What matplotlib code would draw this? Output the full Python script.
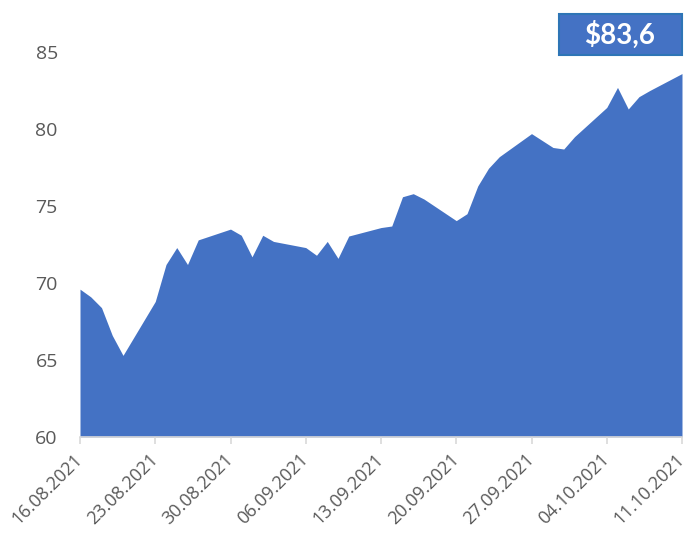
import matplotlib
matplotlib.use("Agg")
import matplotlib.pyplot as plt
import matplotlib.dates as mdates
from matplotlib.patches import Rectangle
import pandas as pd

# trading days only (weekends are bridged by a straight line, as on the date axis)
start_date = "2021-08-16"
end_date = "2021-10-11"
prices = [
    69.6, 69.1, 68.4, 66.6, 65.3,
    68.8, 71.2, 72.3, 71.2, 72.8,
    73.5, 73.1, 71.7, 73.1, 72.7,
    72.3, 71.8, 72.7, 71.6, 73.05,
    73.6, 73.7, 75.6, 75.8, 75.45,
    74.05, 74.5, 76.3, 77.45, 78.2,
    79.7, 79.25, 78.8, 78.7, 79.5,
    81.4, 82.7, 81.3, 82.1, 82.5,
    83.6,
]
last_label = "$83,6"
y_ticks = [60, 65, 70, 75, 80, 85]

BLUE = "#4472C4"
GREY_TEXT = "#595959"
AXIS_GREY = "#D9D9D9"
FONT = ["Open Sans", "DejaVu Sans"]

dates = pd.bdate_range(start_date, end_date)
x = mdates.date2num(dates.to_pydatetime())

W, H = 687, 533
fig = plt.figure(figsize=(W / 100, H / 100), dpi=100)
ax = fig.add_axes([80 / W, 96 / H, 602 / W, 385 / H])

ax.fill_between(x, 60, prices, color=BLUE, linewidth=0)

ax.set_xlim(x[0], x[-1])
ax.set_ylim(60, 85)

ax.set_yticks(y_ticks)
ax.set_yticklabels([str(v) for v in y_ticks], fontsize=14, color=GREY_TEXT, family=FONT)
ax.tick_params(axis="y", length=0, pad=16)

week_ticks = pd.date_range(start_date, end_date, freq="7D")
ax.set_xticks(mdates.date2num(week_ticks.to_pydatetime()))
ax.set_xticklabels([d.strftime("%d.%m.%Y") for d in week_ticks], rotation=45,
                   ha="right", va="center", rotation_mode="anchor",
                   fontsize=13, color=GREY_TEXT, family=FONT)
ax.tick_params(axis="x", length=5, width=1.2, color=AXIS_GREY, pad=9)

for side in ["top", "right", "left"]:
    ax.spines[side].set_visible(False)
ax.spines["bottom"].set_color(AXIS_GREY)
ax.spines["bottom"].set_linewidth(1.2)

# value badge in the top right corner
fig.add_artist(Rectangle((559 / W, (H - 55) / H), 123 / W, 41 / H, transform=fig.transFigure,
                         facecolor=BLUE, edgecolor="#2E75B6", linewidth=1.5))
fig.text(620 / W, (H - 35) / H, last_label, ha="center", va="center",
         fontsize=20, fontweight="bold", color="white", family=["Lato", "DejaVu Sans"])

fig.savefig("out.png", dpi=100)
